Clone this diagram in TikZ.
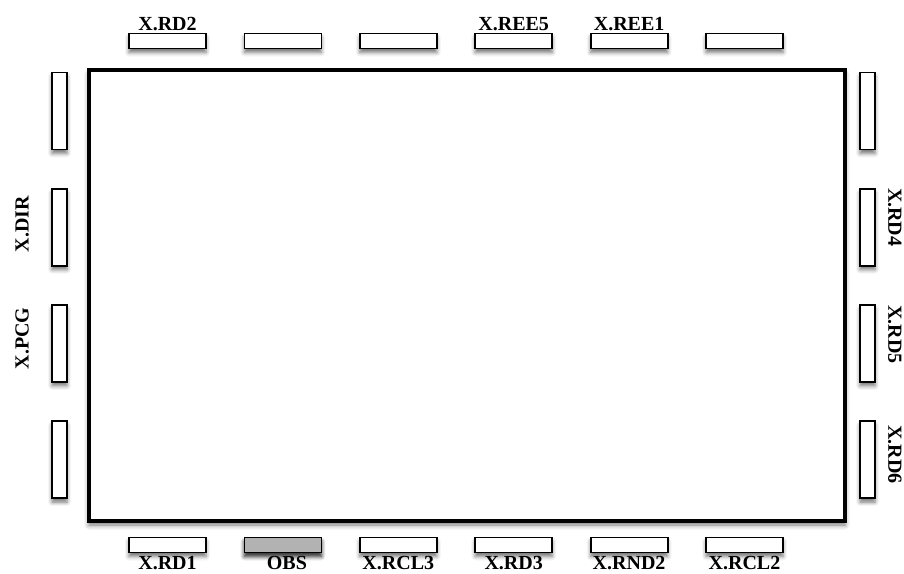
\documentclass[tikz,border=0pt]{standalone}
\usepackage{fontspec}
\setmainfont{Liberation Serif}
\usetikzlibrary{positioning,shadows.blur}

\tikzset{
  slot/.style={draw, line width=1.8pt, fill=white, inner sep=0pt,
    blur shadow={shadow xshift=0pt, shadow yshift=-4pt, shadow blur radius=4pt, shadow opacity=55}},
  hslot/.style={slot, minimum width=77pt, minimum height=15pt},
  vslot/.style={slot, minimum width=15pt, minimum height=77pt},
  tag/.style={inner sep=0pt, font=\fontsize{20}{22}\selectfont\bfseries}
}

\begin{document}
\begin{tikzpicture}[x=1pt,y=-1pt]
      \useasboundingbox (0,0) rectangle (904,573);
      % room
      \node[draw, line width=3.5pt, fill=white, inner sep=0pt, minimum width=756pt, minimum height=451pt,
        blur shadow={shadow xshift=0pt, shadow yshift=-4pt, shadow blur radius=5pt, shadow opacity=55}]
        (room) at (467,295.5) {};
      % slots along the walls
      \foreach \i in {1,...,6} {
        \node[hslot] (t\i) at ({167.5+115.4*(\i-1)},41) {};
        \node[hslot] (b\i) at ({167.5+115.4*(\i-1)},545) {};
      }
      \node[hslot, fill=gray!60] at (b2) {};
      \foreach \j in {1,...,4} {
        \node[vslot] (l\j) at (59.5,{111+116.2*(\j-1)}) {};
        \node[vslot] (r\j) at (867.5,{111+116.2*(\j-1)}) {};
      }
      % names
      \node[tag, above=1.5pt of t1] {X.RD2};
      \node[tag, above=1.5pt of t4] {X.REE5};
      \node[tag, above=1.5pt of t5] {X.REE1};
      \node[tag, below=3pt of b1] {X.RD1};
      \node[tag, below=3pt of b2, xshift=4pt] {OBS};
      \node[tag, below=3pt of b3] {X.RCL3};
      \node[tag, below=3pt of b4] {X.RD3};
      \node[tag, below=3pt of b5] {X.RND2};
      \node[tag, below=3pt of b6] {X.RCL2};
      \node[tag, rotate=90, anchor=south] (dir) at ([xshift=-22pt,yshift=3pt]l2.west) {X.DIR};
      \node[tag, rotate=90, anchor=south] (pcg) at ([xshift=-22pt,yshift=5pt]l3.west) {X.PCG};
      \node[tag, rotate=-90, anchor=south] (rd4) at ([xshift=12pt,yshift=10pt]r2.east) {X.RD4};
      \node[tag, rotate=-90, anchor=south] (rd5) at ([xshift=12pt,yshift=9pt]r3.east) {X.RD5};
      \node[tag, rotate=-90, anchor=south] (rd6) at ([xshift=12pt,yshift=5pt]r4.east) {X.RD6};
    \end{tikzpicture}
\end{document}
